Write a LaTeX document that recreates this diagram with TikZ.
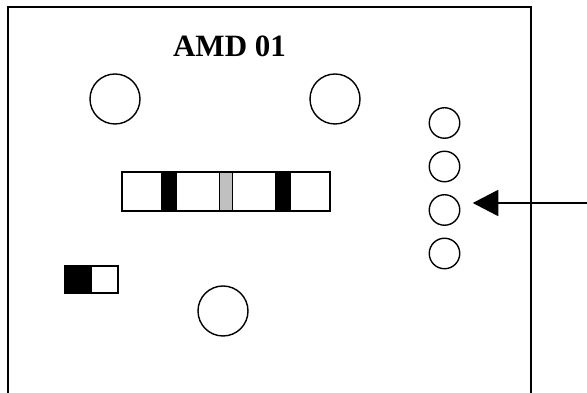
\documentclass[tikz,border=0pt]{standalone}
\usepackage{fontspec}
\setmainfont{Liberation Serif}
\usetikzlibrary{arrows.meta, positioning}
\definecolor{midfill}{HTML}{C0C0C0}
\tikzset{
  hole/.style     = {circle, draw, line width=1.4pt, minimum size=50pt, inner sep=0pt},
  led/.style      = {circle, draw, line width=1.4pt, minimum size=30.5pt,
                     inner sep=0pt, outer sep=0pt},
  cell/.style     = {draw, line width=1.2pt, fill=white, minimum height=39pt,
                     inner sep=0pt, outer sep=0pt},
  darkcell/.style = {cell, fill=black},
  midcell/.style  = {cell, fill=midfill},
  toggle/.style   = {cell, minimum width=26.5pt, minimum height=27pt},
  pointer/.style  = {-{Triangle[length=25.5pt, width=26pt]}, line width=1.8pt},
  board/.style    = {line width=2pt},
}

\begin{document}
\begin{tikzpicture}[x=1pt, y=1pt]
        \useasboundingbox (0,0) rectangle (587,393);
        \draw[board] (8.3,0) -- (8.3,386.3) -- (531,386.3) -- (531,0);
        \node[anchor=base, font=\fontsize{31}{36}\selectfont\bfseries] (title) at (229.5,336) {AMD 01};
        \node[hole] (holeL) at (115,294) {};
        \node[hole] (holeR) at (335,294) {};
        \node[hole] (holeB) at (223,82) {};
        \node[cell, minimum width=40pt, anchor=south west] (s1) at (122,182) {};
        \node[darkcell, minimum width=14pt, right=0pt of s1] (s2) {};
        \node[cell, minimum width=43.5pt, right=0pt of s2] (s3) {};
        \node[midcell, minimum width=13pt, right=0pt of s3] (s4) {};
        \node[cell, minimum width=43.5pt, right=0pt of s4] (s5) {};
        \node[darkcell, minimum width=14pt, right=0pt of s5] (s6) {};
        \node[cell, minimum width=40pt, right=0pt of s6] (s7) {};
        \node[toggle, fill=black, anchor=south west] (sw1) at (65,100) {};
        \node[toggle, right=0pt of sw1] (sw2) {};
        \node[led] (led1) at (444.5,270) {};
        \node[led, below=13pt of led1] (led2) {};
        \node[led, below=13pt of led2] (led3) {};
        \node[led, below=13pt of led3] (led4) {};
        \coordinate (tail) at (587,190);
        \draw[pointer, shorten >=13pt] (tail) -- (tail -| led3.east);
    \end{tikzpicture}
\end{document}
